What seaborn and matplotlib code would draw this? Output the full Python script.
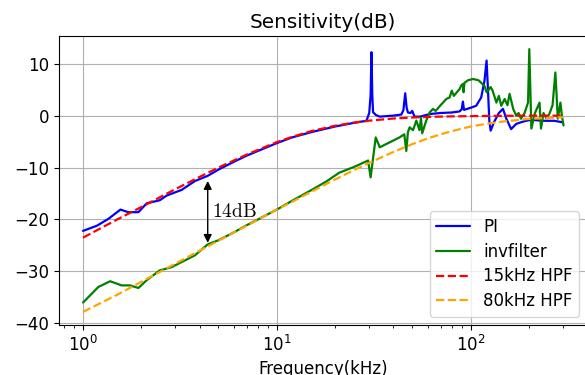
import numpy as np
import pandas as pd
import matplotlib
matplotlib.use("Agg")
import matplotlib.pyplot as plt
import seaborn as sns

# ---------------- data ----------------
pi_freq = [1.0, 1.18, 1.35, 1.56, 1.71, 1.93, 2.13, 2.49, 2.70, 3.23, 3.78, 4.4, 5.0, 6.0, 7.0,
           8.0, 10.0, 12.0, 15.0, 20.0, 25.0, 29.0, 30.0, 30.5, 30.8, 31.1, 31.4, 32.5, 34.0,
           40.0, 43.9, 45.0, 46.0, 46.8, 47.5, 49.0, 50.0, 51.4, 55.0, 61.5, 70.0, 80.0, 87.7,
           90.0, 91.3, 92.5, 100.0, 107.0, 113.5, 118.0, 121.0, 123.0, 125.0, 127.0, 132.0,
           140.0, 147.0, 153.0, 162.0, 172.0, 185.0, 194.0, 206.0, 236.0, 270.0, 300.0]
pi_db = [-22.2, -21.2, -19.9, -18.1, -18.6, -18.6, -16.9, -16.3, -15.4, -14.3, -12.6, -11.6,
         -10.4, -8.9, -7.7, -6.8, -5.3, -4.2, -3.2, -2.1, -1.4, -1.0, 0.5, 4.0, 12.2, 4.0,
         0.65, 0.1, -0.2, 0.0, 0.2, 1.0, 4.3, 1.5, 0.6, 0.5, 0.9, -0.2, -0.2, 0.3, 0.5, 0.6,
         0.8, 1.2, 2.7, 1.1, 1.5, 1.9, 3.5, 6.7, 10.6, 5.0, -1.0, -2.9, -1.3, 0.5, 1.3, -0.6,
         -2.6, -1.6, -1.2, -1.0, -0.8, -1.0, -1.0, -1.3]

inv_freq = [1.0, 1.20, 1.38, 1.58, 1.75, 1.93, 2.13, 2.49, 2.86, 3.23, 3.78, 4.4, 5.0, 6.0,
            7.0, 8.0, 10.0, 12.0, 15.0, 18.0, 21.0, 25.0, 29.6, 30.5, 31.2, 32.4, 34.0, 38.0,
            43.0, 45.5, 46.6, 47.5, 48.5, 50.5, 52.5, 54.5, 55.5, 56.3, 59.0, 61.5, 64.0, 66.0,
            70.0, 75.0, 78.0, 80.0, 82.0, 87.7, 89.5, 91.3, 92.0, 93.0, 97.0, 103.0, 110.0,
            118.0, 121.0, 123.0, 127.0, 130.0, 136.0, 140.0, 144.0, 150.0, 155.0, 159.0,
            166.0, 172.0, 177.0, 182.0, 190.0, 198.0, 201.0, 206.0, 215.0, 227.0, 231.0,
            238.0, 246.0, 255.0, 265.0, 274.0, 278.0, 282.0, 291.0, 296.0, 302.0]
inv_db = [-36.0, -33.0, -31.9, -32.7, -32.7, -33.2, -31.7, -29.8, -29.2, -28.2, -26.9, -24.8,
          -24.0, -22.5, -21.1, -20.0, -18.1, -16.4, -14.4, -12.7, -11.0, -9.9, -8.65, -11.9,
          -9.0, -4.2, -6.1, -5.2, -4.2, -3.6, -6.8, -3.2, -2.25, -2.8, -0.96, -2.8, -0.5, -3.4,
          -1.0, 0.6, 1.3, 0.9, 2.0, 3.2, 3.5, 4.8, 3.8, 5.1, 5.8, 6.1, 4.5, 6.3, 6.8, 7.05,
          6.8, 5.7, 4.5, 4.8, 5.5, 4.8, 2.5, 3.8, 1.9, 3.2, 2.0, 4.2, 1.3, 0.0, 0.5, -0.6, 0.5,
          2.5, 12.8, -2.5, 0.5, 2.5, -2.5, 0.5, -0.5, 0.3, 2.0, 8.3, 4.0, -0.6, 2.5, 0.0, -1.9]

hpf_freq = [1.0, 1.5, 2.0, 3.0, 4.0, 5.0, 7.0, 10.0, 12.0, 15.0, 20.0, 25.0, 30.0, 40.0,
            50.0, 60.0, 70.0, 80.0, 100.0, 120.0, 150.0, 200.0, 300.0]
hpf15_db = [-23.5, -20.0, -17.6, -14.15, -11.8, -10.0, -7.5, -5.1, -4.1, -3.0, -1.95, -1.35,
            -0.97, -0.56, -0.37, -0.26, -0.19, -0.15, -0.10, -0.07, -0.04, -0.02, -0.01]
hpf80_db = [-37.8, -34.5, -32.0, -28.5, -26.0, -24.1, -21.2, -18.1, -16.6, -14.7, -12.3,
            -10.5, -9.1, -7.0, -5.5, -4.4, -3.6, -3.0, -2.1, -1.6, -1.1, -0.64, -0.3]

series_labels = ["PI", "invfilter", "15kHz HPF", "80kHz HPF"]
title_text = "Sensitivity(dB)"
xlabel_text = "Frequency(kHz)"
gap_label = r"$\mathrm{14dB}$"
gap_freq = 4.4
gap_top = -12.6
gap_bottom = -24.5

# ---------------- plot ----------------
sns.set_style("ticks", {"axes.grid": True, "grid.color": "#b0b0b0",
                        "axes.edgecolor": "black", "xtick.color": "black",
                        "ytick.color": "black", "text.color": "black",
                        "axes.labelcolor": "black"})
plt.rcParams["font.family"] = ["DejaVu Sans"]
plt.rcParams["font.size"] = 12
plt.rcParams["mathtext.fontset"] = "cm"

fig = plt.figure(figsize=(5.85, 3.75), dpi=100)
ax = fig.add_axes([0.1009, 0.1333, 0.9035, 0.7707])

sns.lineplot(x=pi_freq, y=pi_db, color="blue", lw=1.6, label=series_labels[0],
             ax=ax, estimator=None, sort=False)
sns.lineplot(x=inv_freq, y=inv_db, color="green", lw=1.6, label=series_labels[1],
             ax=ax, estimator=None, sort=False)
sns.lineplot(x=hpf_freq, y=hpf15_db, color="red", lw=1.6, linestyle="--",
             label=series_labels[2], ax=ax, estimator=None, sort=False)
sns.lineplot(x=hpf_freq, y=hpf80_db, color="orange", lw=1.6, linestyle="--",
             label=series_labels[3], ax=ax, estimator=None, sort=False)

ax.set_xscale("log")
ax.margins(x=0.05, y=0.05)
ax.grid(True, which="major", color="#b0b0b0", linewidth=0.8)
ax.grid(False, which="minor")
for s in ax.spines.values():
    s.set_visible(True)
    s.set_color("black")
    s.set_linewidth(0.8)
ax.tick_params(axis="both", which="major", labelsize=12, length=3.5, width=0.8)
ax.tick_params(axis="x", which="minor", length=2, width=0.6)

ax.annotate("", xy=(gap_freq, gap_bottom), xytext=(gap_freq, gap_top),
            arrowprops=dict(arrowstyle="<|-|>", color="black", lw=1.0,
                            mutation_scale=12, shrinkA=0, shrinkB=0))
ax.text(gap_freq * 1.05, (gap_top + gap_bottom) / 2, gap_label, fontsize=14,
        va="center", ha="left")

ax.set_title(title_text, fontsize=14.4)
ax.set_xlabel(xlabel_text, fontsize=12)
ax.set_ylabel("")
ax.set_yticks([-40, -30, -20, -10, 0, 10])
ax.legend(loc="lower right", fontsize=12, frameon=True, framealpha=0.8,
          edgecolor="#cccccc", fancybox=True, labelspacing=0.4)

fig.savefig("out.png", dpi=100)
